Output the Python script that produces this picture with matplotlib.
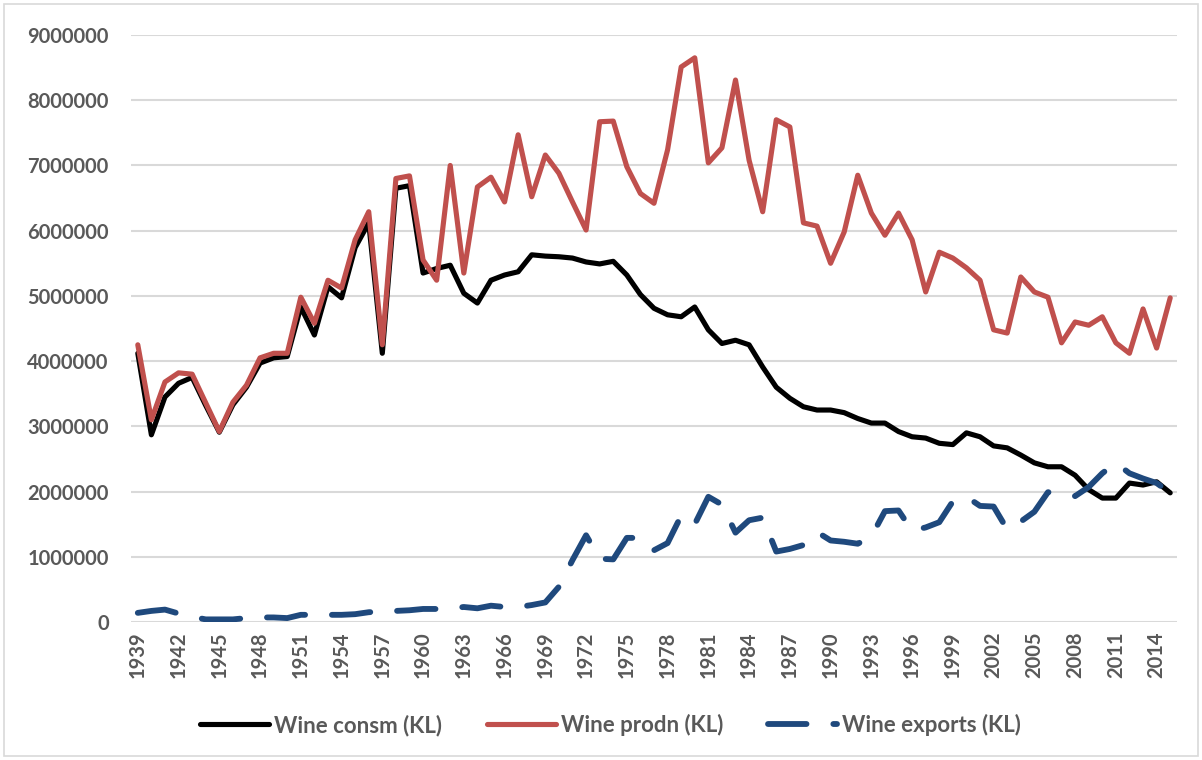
import matplotlib
matplotlib.use("Agg")
import matplotlib.pyplot as plt
from matplotlib.patches import Rectangle

years = list(range(1939, 2016))

consm = [4.12, 2.87, 3.45, 3.66, 3.75, 3.32, 2.91, 3.33, 3.60, 3.97,
         4.05, 4.07, 4.83, 4.40, 5.14, 4.97, 5.74, 6.12, 4.12, 6.65,
         6.69, 5.35, 5.42, 5.47, 5.04, 4.89, 5.24, 5.32, 5.37, 5.63,
         5.61, 5.60, 5.58, 5.52, 5.49, 5.53, 5.32, 5.02, 4.81, 4.71,
         4.68, 4.83, 4.48, 4.27, 4.32, 4.25, 3.91, 3.60, 3.43, 3.30,
         3.25, 3.25, 3.21, 3.12, 3.05, 3.05, 2.92, 2.84, 2.82, 2.74,
         2.72, 2.90, 2.84, 2.70, 2.67, 2.56, 2.44, 2.38, 2.38, 2.25,
         2.03, 1.90, 1.90, 2.13, 2.10, 2.15, 1.98]

prodn = [4.25, 3.10, 3.68, 3.82, 3.80, 3.36, 2.92, 3.37, 3.63, 4.05,
         4.12, 4.12, 4.98, 4.58, 5.24, 5.12, 5.86, 6.29, 4.25, 6.80,
         6.84, 5.55, 5.24, 7.00, 5.35, 6.67, 6.82, 6.44, 7.47, 6.52,
         7.16, 6.88, 6.44, 6.01, 7.67, 7.68, 6.98, 6.57, 6.42, 7.24,
         8.51, 8.65, 7.04, 7.27, 8.31, 7.08, 6.29, 7.70, 7.59, 6.12,
         6.07, 5.50, 5.98, 6.85, 6.27, 5.93, 6.27, 5.86, 5.06, 5.67,
         5.58, 5.43, 5.24, 4.48, 4.43, 5.29, 5.06, 4.98, 4.28, 4.60,
         4.55, 4.68, 4.28, 4.12, 4.80, 4.20, 4.97]

exports = [0.14, 0.17, 0.19, 0.13, 0.08, 0.04, 0.04, 0.04, 0.06, 0.07,
           0.07, 0.06, 0.11, 0.11, 0.11, 0.11, 0.12, 0.15, 0.16, 0.17,
           0.18, 0.20, 0.20, 0.21, 0.23, 0.21, 0.25, 0.23, 0.23, 0.26,
           0.30, 0.54, 0.95, 1.33, 0.97, 0.96, 1.29, 1.29, 1.10, 1.21,
           1.63, 1.50, 1.92, 1.80, 1.37, 1.56, 1.60, 1.08, 1.12, 1.18,
           1.38, 1.25, 1.23, 1.20, 1.31, 1.70, 1.71, 1.40, 1.45, 1.53,
           1.85, 1.92, 1.78, 1.77, 1.42, 1.54, 1.69, 1.99, 1.98, 1.93,
           2.07, 2.28, 2.44, 2.28, 2.20, 2.13, 1.98]

series_names = ["Wine consm (KL)", "Wine prodn (KL)", "Wine exports (KL)"]
y_ticks = [0, 1000000, 2000000, 3000000, 4000000, 5000000, 6000000, 7000000, 8000000, 9000000]

SCALE = 1e6
FONT = ["Lato", "DejaVu Sans"]
TXT = "#595959"

plt.rcParams['font.family'] = FONT
fig = plt.figure(figsize=(12.02, 7.60), dpi=100)
ax = fig.add_axes([131 / 1202, 1 - 622 / 760, (1177 - 131) / 1202, (622 - 35) / 760])

x = list(range(len(years)))
ax.plot(x, [v * SCALE for v in consm], color="#000000", lw=3.7,
        solid_joinstyle="round", solid_capstyle="round", label=series_names[0], zorder=3)
ax.plot(x, [v * SCALE for v in prodn], color="#C0504D", lw=3.7,
        solid_joinstyle="round", solid_capstyle="round", label=series_names[1], zorder=4)
ax.plot(x, [v * SCALE for v in exports], color="#1F497D", lw=4.2,
        dashes=(6.6, 4.6), dash_capstyle="round", dash_joinstyle="round",
        label=series_names[2], zorder=5)

ax.set_xlim(-0.5, len(years) - 0.5)
ax.set_ylim(0, 9000000)
ax.set_yticks(y_ticks)
ax.set_yticklabels([str(v) for v in y_ticks])
ax.set_xticks(x[::3])
ax.set_xticklabels([str(y) for y in years[::3]], rotation=90)

ax.grid(axis="y", color="#d9d9d9", lw=1.5)
ax.set_axisbelow(True)
for s in ax.spines.values():
    s.set_visible(False)
ax.tick_params(axis="y", length=0, pad=16, labelsize=14.5, labelcolor=TXT)
ax.tick_params(axis="x", length=0, pad=7, labelsize=14.5, labelcolor=TXT)
for lbl in ax.get_xticklabels() + ax.get_yticklabels():
    lbl.set_fontweight("bold")

leg = fig.legend(loc="center", bbox_to_anchor=(0.508, 0.046), ncol=3, frameon=False,
                 handlelength=3.1, handletextpad=0.25, columnspacing=2.0,
                 prop={"family": FONT, "weight": "bold", "size": 16})
for t in leg.get_texts():
    t.set_color(TXT)

fig.patches.append(Rectangle((4 / 1202, 4 / 760), 1 - 8 / 1202, 1 - 8 / 760,
                             transform=fig.transFigure, fill=False,
                             edgecolor="#d9d9d9", lw=1.2))

fig.savefig("out.png", dpi=100)
